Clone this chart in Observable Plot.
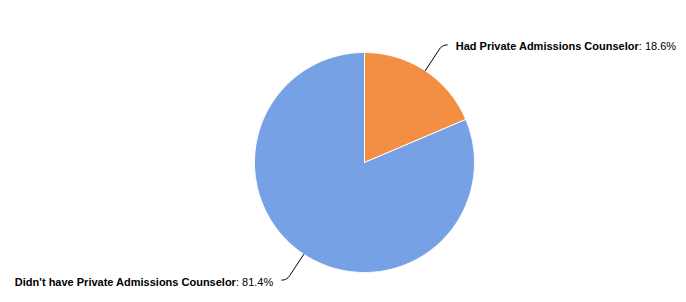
<!DOCTYPE html>
<html>
<head>
<meta charset="utf-8">
<script src="https://cdn.jsdelivr.net/npm/d3@7"></script>
<script src="https://cdn.jsdelivr.net/npm/@observablehq/plot@0.6"></script>
<style>
  html, body { margin: 0; padding: 0; background: #ffffff; }
  #chart { width: 686px; height: 302px; }
</style>
</head>
<body>
<div id="chart"></div>
<script>
// ---- data ----
const categories = ["Had Private Admissions Counselor", "Didn't have Private Admissions Counselor"];
const values = [18.6, 81.4];
const sliceColors = ["#f28f43", "#77a1e5"];

// ---- layout ----
const W = 686, H = 302;
const cx = 364, cy = 162, r = 110;

const pie = d3.pie().sort(null).value(d => d)(values);

// slice outlines (computed from data angles)
const slicePts = [];
pie.forEach((p, i) => {
  const n = Math.max(4, Math.ceil((p.endAngle - p.startAngle) / 0.01));
  slicePts.push({slice: i, x: cx, y: cy, color: sliceColors[i]});
  for (let k = 0; k <= n; k++) {
    const a = p.startAngle + (p.endAngle - p.startAngle) * k / n;
    slicePts.push({slice: i, x: cx + r * Math.sin(a), y: cy - r * Math.cos(a), color: sliceColors[i]});
  }
  slicePts.push({slice: i, x: cx, y: cy, color: sliceColors[i]});
});

// connectors and labels
const connPts = [];
const labels = [];
pie.forEach((p, i) => {
  const a = (p.startAngle + p.endAngle) / 2;
  const s = Math.sin(a), c = Math.cos(a);
  const side = s >= 0 ? 1 : -1;
  const P0 = [cx + r * s, cy - r * c];
  const Q = [cx + (r + 26) * s, cy - (r + 26) * c];
  const K = [cx + (r + 31) * s, cy - (r + 31) * c];
  const E = [K[0] + side * 5, K[1]];
  connPts.push({seg: i, x: P0[0], y: P0[1]});
  const m = 8;
  for (let k = 0; k <= m; k++) {
    const t = k / m;
    const x = (1 - t) * (1 - t) * Q[0] + 2 * (1 - t) * t * K[0] + t * t * E[0];
    const y = (1 - t) * (1 - t) * Q[1] + 2 * (1 - t) * t * K[1] + t * t * E[1];
    connPts.push({seg: i, x, y});
  }
  labels.push({
    side,
    x: E[0] + side * 8.5,
    y: E[1] + 2,
    text: `${categories[i]}: ${values[i].toFixed(1)}%`
  });
});

const chart = Plot.plot({
  width: W,
  height: H,
  margin: 0,
  x: {domain: [0, W], range: [0, W], axis: null},
  y: {domain: [0, H], range: [0, H], axis: null},
  color: {type: "identity"},
  style: {background: "#ffffff", fontFamily: "'Liberation Sans', Arial, Helvetica, sans-serif", fontSize: "11px"},
  marks: [
    Plot.line(slicePts, {x: "x", y: "y", z: "slice", fill: "color", stroke: "#ffffff", strokeWidth: 1, strokeLinejoin: "round", curve: "linear"}),
    Plot.line(connPts, {x: "x", y: "y", z: "seg", stroke: "#000000", strokeWidth: 1, curve: "linear"}),
    Plot.text(labels.filter(d => d.side > 0), {x: "x", y: "y", text: "text", textAnchor: "start", fill: "#000000", fontSize: 11}),
    Plot.text(labels.filter(d => d.side < 0), {x: "x", y: "y", text: "text", textAnchor: "end", fill: "#000000", fontSize: 11})
  ]
});

document.getElementById("chart").appendChild(chart);

// bold the category name, keep the value normal
d3.select(chart).selectAll('g[aria-label="text"] text').each(function () {
  const el = d3.select(this);
  const full = this.textContent;
  const idx = full.lastIndexOf(": ");
  if (idx < 0) return;
  const name = full.slice(0, idx), rest = full.slice(idx);
  el.text(null);
  el.append("tspan").attr("font-weight", "bold").text(name);
  el.append("tspan").attr("font-weight", "normal").text(rest);
});
</script>
</body>
</html>
